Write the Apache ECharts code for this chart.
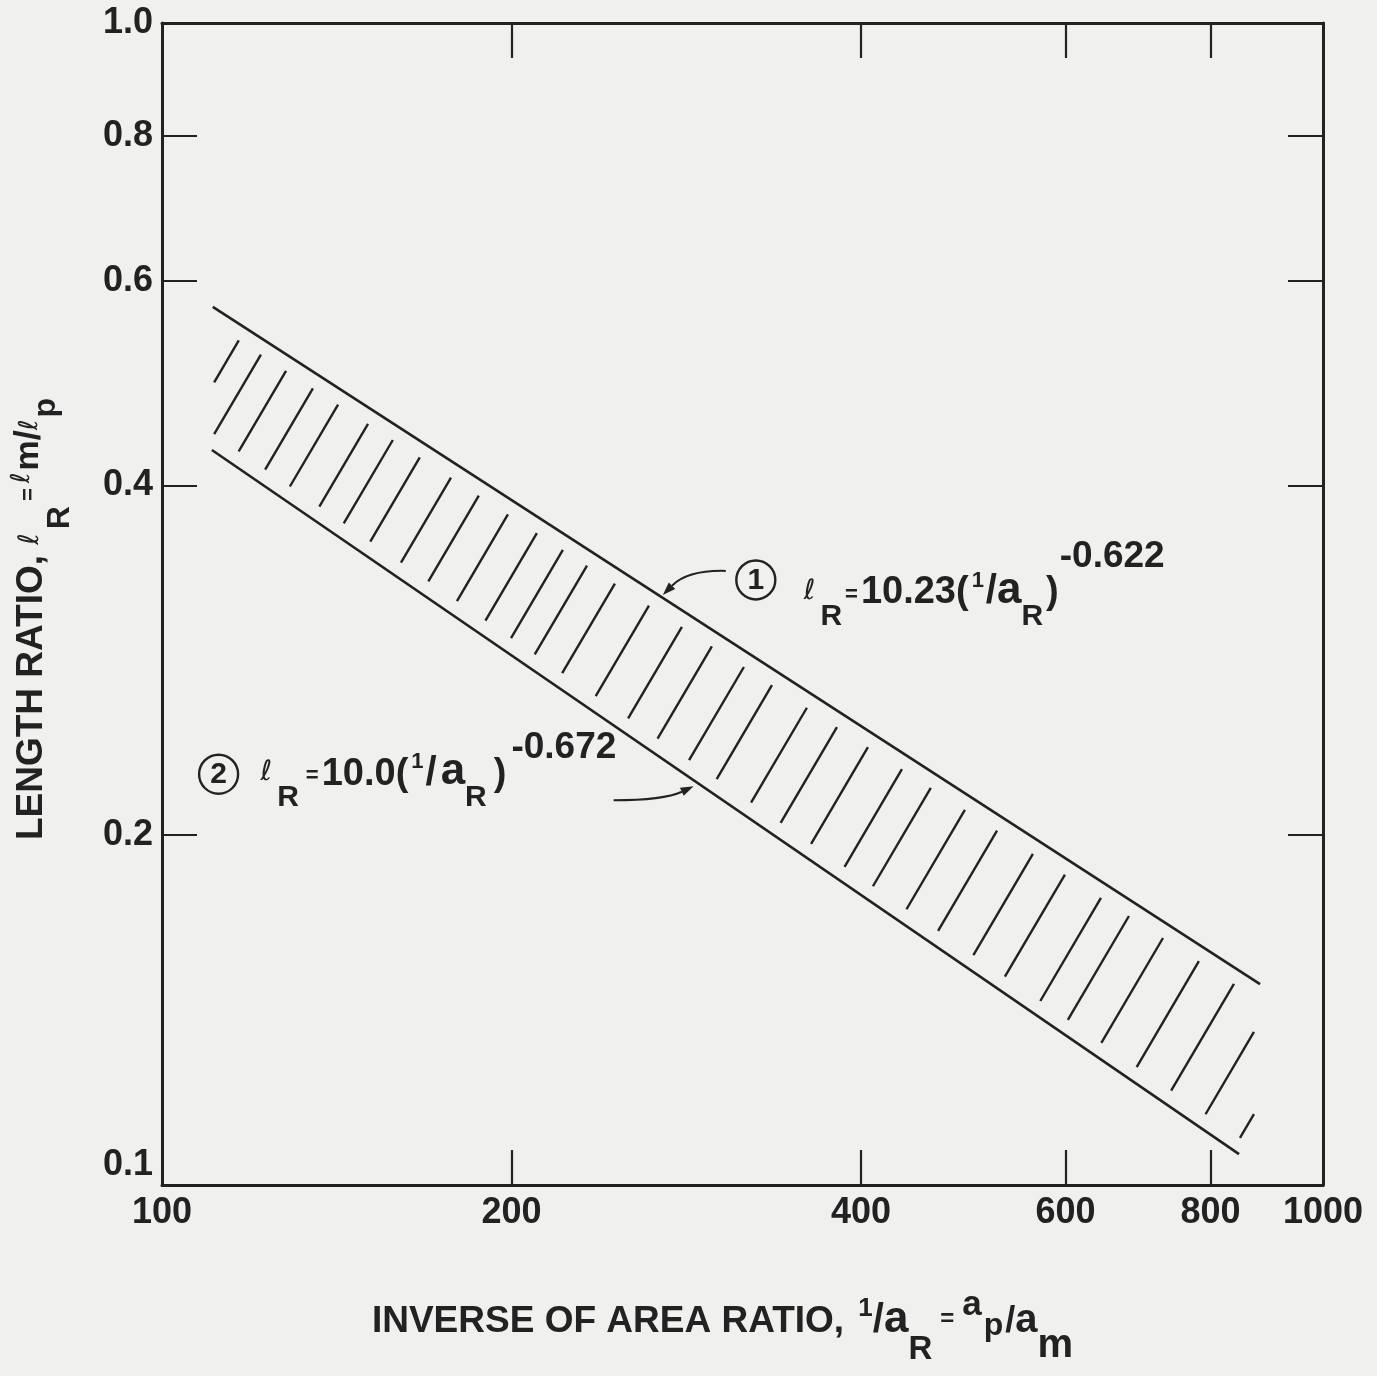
<!DOCTYPE html>
<html><head><meta charset="utf-8">
<script src="https://cdn.jsdelivr.net/npm/echarts@6/dist/echarts.min.js"></script>
<style>html,body{margin:0;padding:0;background:#f0f0ee}#c{width:1377px;height:1376px}</style>
</head><body><div id="c"></div>
<script>
// ---- data ----
const xTickValues = [200, 400, 600, 800];
const xLabelValues = [100, 200, 400, 600, 800, 1000];
const yTickValues = [0.2, 0.4, 0.6, 0.8];
const yLabelValues = [0.1, 0.2, 0.4, 0.6, 0.8, 1.0];
// curve 1 (upper) and curve 2 (lower) end points
const line1X = [110.6, 882.6];
const line1Y = [0.5697, 0.1489];
const line2X = [110.4, 846.6];
const line2Y = [0.4291, 0.1063];
// hatch strokes: x where each stroke meets the upper curve
const hatchX = [118.1, 123.4, 129.7, 136.8, 143.8, 152.6, 160.3, 169.1, 179.9, 190.1,
  201.4, 213.3, 224.6, 235.6, 249.0, 266.4, 284.4, 301.8, 321.6, 340.0,
  364.4, 386.8, 411.3, 440.0, 465.9, 498.5, 531.3, 570.5, 607.9, 652.9,
  690.2, 738.4, 792.9, 850.0, 911.0, 976.5];
const hatchRange = [110.9, 872];
// arrow tips of the two labels (x on each curve)
const arrow1X = 270;
const arrow2X = 287;

// ---- styles ----
const INK = '#222';
const FONT = '"Liberation Sans", Arial, Helvetica, sans-serif';
const SCRIPT_FONT = '"DejaVu Sans", "Liberation Sans", sans-serif';

function shift(F, f, B) { // B: baseline offset vs main baseline (px, + = down)
  const d = 0.35 * F - 0.35 * f + B;
  return d >= 0 ? [2 * d, 0, 0, 0] : [0, 0, -2 * d, 0];
}
function tk(F, f, B, opt, colorKey, lh) {
  const o = Object.assign({ fontSize: f, fontWeight: 'bold', fontFamily: FONT }, opt || {});
  const p = shift(F, f, B);
  if (o.padLeft) { p[3] = o.padLeft; delete o.padLeft; }
  if (o.padRight) { p[1] = o.padRight; delete o.padRight; }
  o.padding = p;
  o[colorKey] = INK;
  if (lh) o.lineHeight = lh;
  return o;
}

const XF = 37;
const xNameRich = {
  m: tk(XF, XF, 0, {}, 'color', 60),
  s1: tk(XF, 26, -17, { padLeft: 4 }, 'color', 60),
  sl: tk(XF, 40, 0, {}, 'color', 60),
  a: tk(XF, 44, 0, {}, 'color', 60),
  sR: tk(XF, 33, 27, {}, 'color', 60),
  eq: tk(XF, 24, -7, { padLeft: 8, padRight: 8 }, 'color', 60),
  sa: tk(XF, 35, -17, { padRight: 2 }, 'color', 60),
  sp: tk(XF, 32, 2, { padRight: 2 }, 'color', 60),
  sl2: tk(XF, 36, 0, {}, 'color', 60),
  a2: tk(XF, 40, 0, {}, 'color', 60),
  sm: tk(XF, 40, 25, {}, 'color', 60)
};
const xName = '{m|INVERSE OF AREA RATIO, }{s1|1}{sl|/}{a|a}{sR|R}{eq|=}{sa|a}{sp|p}{sl2|/}{a2|a}{sm|m}';

const YF = 37;
const yNameRich = {
  m: tk(YF, YF, 0, {}, 'color', 60),
  l1: tk(YF, 28, -4, { fontWeight: 'normal', fontFamily: SCRIPT_FONT, padRight: 4 }, 'color', 60),
  sR: tk(YF, 32, 26, {}, 'color', 60),
  eq: tk(YF, 22, -8, { padLeft: 5, padRight: 5 }, 'color', 60),
  l2: tk(YF, 26, -14, { fontWeight: 'normal', fontFamily: SCRIPT_FONT, padRight: 2 }, 'color', 60),
  mm: tk(YF, 34, -4, {}, 'color', 60),
  sl: tk(YF, 36, -2, {}, 'color', 60),
  l3: tk(YF, 26, -6, { fontWeight: 'normal', fontFamily: SCRIPT_FONT, padRight: 2 }, 'color', 60),
  sp: tk(YF, 32, 12, {}, 'color', 60)
};
const yName = '{m|LENGTH RATIO, }{l1|ℓ}{sR|R}{eq|=}{l2|ℓ}{mm|m}{sl|/}{l3|ℓ}{sp|p}';

const axisLineStyle = { color: INK, width: 3 };
const tickStyle = { color: INK, width: 2.2 };

const chart = echarts.init(document.getElementById('c'), null, { renderer: 'canvas' });

function renderHatch(params, api) {
  const hx = api.value(0);
  const u0 = api.coord([line1X[0], line1Y[0]]), u1 = api.coord([line1X[1], line1Y[1]]);
  const l0 = api.coord([line2X[0], line2Y[0]]), l1 = api.coord([line2X[1], line2Y[1]]);
  const px = api.coord([hx, 0.5])[0];
  const tu = (px - u0[0]) / (u1[0] - u0[0]);
  const U = [px, u0[1] + tu * (u1[1] - u0[1])];
  const len = Math.sqrt(0.588 * 0.588 + 1);
  const d = [-0.588 / len, 1 / len];
  const e = [l1[0] - l0[0], l1[1] - l0[1]];
  const den = d[0] * e[1] - d[1] * e[0];
  const t = ((l0[0] - U[0]) * e[1] - (l0[1] - U[1]) * e[0]) / den;
  let a = 14, b = t - 14;
  const xL = api.coord([hatchRange[0], 0.5])[0];
  const xR = api.coord([hatchRange[1], 0.5])[0];
  a = Math.max(a, (xR - U[0]) / d[0]);
  b = Math.min(b, (xL - U[0]) / d[0]);
  if (b <= a) return null;
  return {
    type: 'line',
    shape: { x1: U[0] + a * d[0], y1: U[1] + a * d[1], x2: U[0] + b * d[0], y2: U[1] + b * d[1] },
    style: { stroke: INK, lineWidth: 2.4 }
  };
}

const option = {
  backgroundColor: '#f0f0ee',
  animation: false,
  grid: { left: 162, right: 54, top: 23, bottom: 191, outerBoundsMode: 'none', containLabel: false },
  xAxis: [{
    type: 'log', logBase: 10, min: 100, max: 1000, position: 'bottom',
    axisLine: { show: true, lineStyle: axisLineStyle },
    axisTick: { show: true, inside: true, length: 35, lineStyle: tickStyle, customValues: xTickValues },
    minorTick: { show: false }, splitLine: { show: false },
    axisLabel: {
      show: true, customValues: xLabelValues, margin: 10,
      fontSize: 36, fontWeight: 'bold', fontFamily: FONT, color: INK,
      formatter: v => String(Math.round(v))
    },
    name: xName, nameLocation: 'middle', nameGap: 107, nameMoveOverlap: false,
    nameTextStyle: { rich: xNameRich, padding: [0, 40, 0, 0] }
  }, {
    type: 'log', logBase: 10, min: 100, max: 1000, position: 'top',
    axisLine: { show: true, lineStyle: axisLineStyle },
    axisTick: { show: true, inside: true, length: 35, lineStyle: tickStyle, customValues: xTickValues },
    axisLabel: { show: false }, splitLine: { show: false }
  }],
  yAxis: [{
    type: 'log', logBase: 10, min: 0.1, max: 1, position: 'left',
    axisLine: { show: true, lineStyle: axisLineStyle },
    axisTick: { show: true, inside: true, length: 35, lineStyle: tickStyle, customValues: yTickValues },
    minorTick: { show: false }, splitLine: { show: false },
    axisLabel: {
      show: true, customValues: yLabelValues, margin: 9,
      fontSize: 36, fontWeight: 'bold', fontFamily: FONT, color: INK,
      formatter: v => (Math.abs(v - 0.1) < 1e-9 ? '{lo|0.1}' : Number(v).toFixed(1)),
      rich: { lo: { fontSize: 36, fontWeight: 'bold', fontFamily: FONT, color: INK, padding: [0, 0, 40, 0] } }
    },
    name: yName, nameLocation: 'middle', nameRotate: 90, nameGap: 100, nameMoveOverlap: false,
    nameTextStyle: { rich: yNameRich, padding: [0, 30, 0, 0] }
  }, {
    type: 'log', logBase: 10, min: 0.1, max: 1, position: 'right',
    axisLine: { show: true, lineStyle: axisLineStyle },
    axisTick: { show: true, inside: true, length: 35, lineStyle: tickStyle, customValues: yTickValues },
    axisLabel: { show: false }, splitLine: { show: false }
  }],
  series: [{
    type: 'line', name: 'curve 1', xAxisIndex: 0, yAxisIndex: 0,
    data: line1X.map((x, i) => [x, line1Y[i]]),
    symbol: 'none', lineStyle: { color: INK, width: 2.6 }, silent: true
  }, {
    type: 'line', name: 'curve 2', xAxisIndex: 0, yAxisIndex: 0,
    data: line2X.map((x, i) => [x, line2Y[i]]),
    symbol: 'none', lineStyle: { color: INK, width: 2.6 }, silent: true
  }, {
    type: 'custom', name: 'hatch', xAxisIndex: 0, yAxisIndex: 0,
    data: hatchX.map(v => [v, 0.3]),
    encode: { x: 0, y: 1 },
    renderItem: renderHatch, silent: true, clip: false
  }]
};
chart.setOption(option);

// ---- labels with arrows ----
function onLine(xs, ys, xv) {
  const a = chart.convertToPixel({ xAxisIndex: 0, yAxisIndex: 0 }, [xs[0], ys[0]]);
  const b = chart.convertToPixel({ xAxisIndex: 0, yAxisIndex: 0 }, [xs[1], ys[1]]);
  const px = chart.convertToPixel({ xAxisIndex: 0, yAxisIndex: 0 }, [xv, 0.5])[0];
  const t = (px - a[0]) / (b[0] - a[0]);
  return [px, a[1] + t * (b[1] - a[1])];
}
function arrow(start, ctrl, tip) {
  const dx = tip[0] - ctrl[0], dy = tip[1] - ctrl[1];
  const L = Math.sqrt(dx * dx + dy * dy);
  const ux = dx / L, uy = dy / L;
  const hl = 13, hw = 4.5;
  const bx = tip[0] - ux * hl, by = tip[1] - uy * hl;
  return [{
    type: 'bezierCurve', silent: true,
    shape: { x1: start[0], y1: start[1], cpx1: ctrl[0], cpy1: ctrl[1], x2: bx, y2: by },
    style: { stroke: INK, lineWidth: 2, fill: null }
  }, {
    type: 'polygon', silent: true,
    shape: { points: [tip, [bx - uy * hw, by + ux * hw], [bx + uy * hw, by - ux * hw]] },
    style: { fill: INK }
  }];
}
const AF = 38;
function eqRich(expRaise, gap) {
  return {
    l: tk(AF, 28, -5, { fontWeight: 'normal', fontFamily: SCRIPT_FONT, padRight: 5 }, 'fill'),
    sR: tk(AF, 30, 21, { padRight: 3 + gap / 3 }, 'fill'),
    eq: tk(AF, 22, -4, { padRight: 3 }, 'fill'),
    m: tk(AF, AF, 0, {}, 'fill'),
    s1: tk(AF, 22, -18, { padLeft: 3 }, 'fill'),
    sl: tk(AF, 40, 0, { padLeft: 2, padRight: gap / 3 }, 'fill'),
    a: tk(AF, 44, 0, {}, 'fill'),
    ex: tk(AF, 37, -expRaise, { padLeft: 1 + gap / 3 }, 'fill')
  };
}
const tip1 = onLine(line1X, line1Y, arrow1X);
const tip2 = onLine(line2X, line2Y, arrow2X);
tip1[1] -= 3; tip2[1] += 6;
const graphics = [];
graphics.push(...arrow([tip1[0] + 63, tip1[1] - 24], [tip1[0] + 25, tip1[1] - 25], tip1));
graphics.push(...arrow([tip2[0] - 80, tip2[1] + 14], [tip2[0] - 30, tip2[1] + 14], tip2));
function circled(cx, cy, digit) {
  return [{
    type: 'circle', silent: true, shape: { cx: cx, cy: cy, r: 19.5 },
    style: { stroke: INK, lineWidth: 2.4, fill: null }
  }, {
    type: 'text', silent: true, x: cx, y: cy + 1,
    style: { text: digit, fill: INK, font: 'bold 30px ' + FONT, align: 'center', verticalAlign: 'middle' }
  }];
}
graphics.push(...circled(tip1[0] + 93, tip1[1] - 15, '1'));
graphics.push(...circled(tip2[0] - 475, tip2[1] - 12, '2'));
graphics.push({
  type: 'text', silent: true, x: tip1[0] + 141, y: tip1[1] - 2,
  style: {
    text: '{l|ℓ}{sR|R}{eq|=}{m|10.23(}{s1|1}{sl|/}{a|a}{sR|R}{m|)}{ex|-0.622}',
    rich: eqRich(36, 0), align: 'left', verticalAlign: 'middle', fill: INK
  }
});
graphics.push({
  type: 'text', silent: true, x: tip2[0] - 433, y: tip2[1] - 12,
  style: {
    text: '{l|ℓ}{sR|R}{eq|=}{m|10.0(}{s1|1}{sl|/}{a|a}{sR|R}{m|)}{ex|-0.672}',
    rich: eqRich(27, 12), align: 'left', verticalAlign: 'middle', fill: INK
  }
});
chart.setOption({ graphic: { elements: graphics } });
</script>
</body></html>
